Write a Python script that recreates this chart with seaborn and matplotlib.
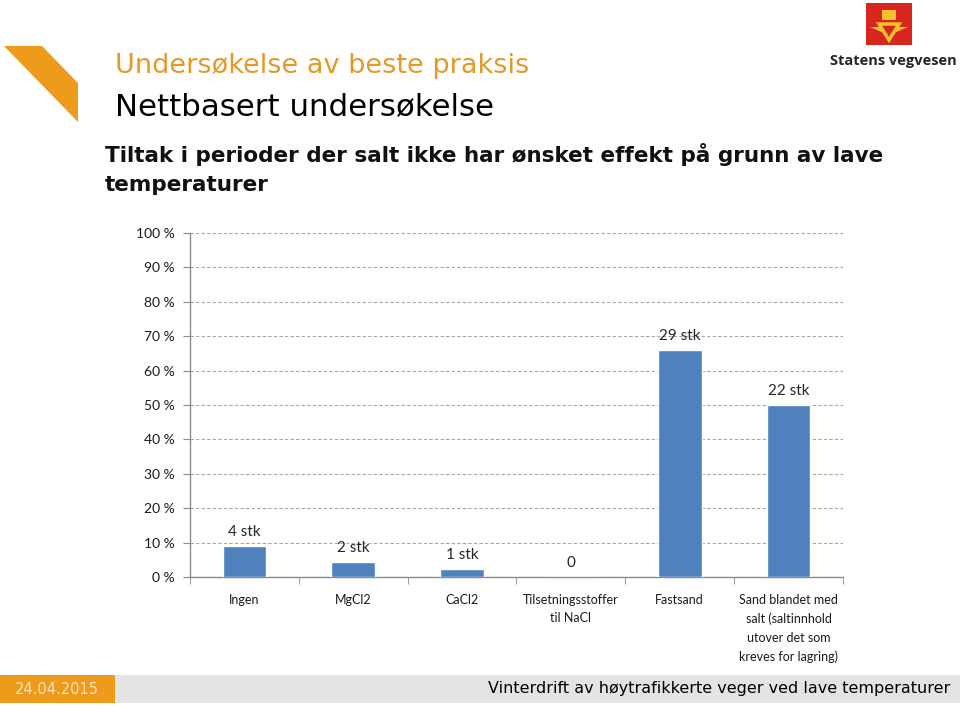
import pandas as pd
import numpy as np
import matplotlib.pyplot as plt
import seaborn as sns
from matplotlib.patches import Polygon, Rectangle

# --- Données du graphique ---
kategorier = ["Ingen", "MgCl2", "CaCl2", "Tilsetningsstoffer\ntil NaCl", "Fastsand",
              "Sand blandet med\nsalt (saltinnhold\nutover det som\nkreves for lagring)"]
andel = [9.1, 4.5, 2.3, 0.0, 65.9, 50.0]
etiketter = ["4 stk", "2 stk", "1 stk", "0", "29 stk", "22 stk"]
y_ticks = [0, 10, 20, 30, 40, 50, 60, 70, 80, 90, 100]

ORANGE = "#EE9A1A"
BLA = "#4F81BD"

sns.set_style("white")
plt.rcParams['font.family'] = ['DejaVu Sans']

W, H = 960, 709
fig = plt.figure(figsize=(W / 100, H / 100), dpi=100)


def fx(px):
    return px / W


def fy(py):
    return 1 - py / H


# --- Décor de la diapositive ---
fig.patches.append(Polygon([(fx(4), fy(46)), (fx(42), fy(46)), (fx(78), fy(83)), (fx(78), fy(122))],
                           closed=True, transform=fig.transFigure, color=ORANGE, lw=0))
fig.text(fx(115), fy(66), "Undersøkelse av beste praksis", color="#E39A2B", fontsize=19.5, va="center")
fig.text(fx(115), fy(107), "Nettbasert undersøkelse", color="black", fontsize=22.2, va="center")
fig.text(fx(105), fy(155), "Tiltak i perioder der salt ikke har ønsket effekt på grunn av lave",
         color="#111111", fontsize=15.5, fontweight="bold", va="center")
fig.text(fx(105), fy(185), "temperaturer", color="#111111", fontsize=15.5, fontweight="bold", va="center")

# logo (approximation)
fig.patches.append(Rectangle((fx(866), fy(45)), fx(46), 42 / H, transform=fig.transFigure,
                             color="#D7261E", lw=0))
fig.patches.append(Polygon([(fx(879), fy(24)), (fx(899), fy(24)), (fx(889), fy(40))], closed=True,
                           transform=fig.transFigure, fill=False, ec="#F2C12E", lw=2.5))
fig.patches.append(Polygon([(fx(870), fy(27)), (fx(880), fy(27)), (fx(884), fy(33))], closed=True,
                           transform=fig.transFigure, color="#F2C12E", lw=0))
fig.patches.append(Polygon([(fx(908), fy(27)), (fx(898), fy(27)), (fx(894), fy(33))], closed=True,
                           transform=fig.transFigure, color="#F2C12E", lw=0))
fig.patches.append(Rectangle((fx(882), fy(20)), fx(14), 10 / H, transform=fig.transFigure,
                             color="#F2C12E", lw=0))
fig.text(fx(893), fy(61), "Statens vegvesen", fontsize=10.5, fontweight="bold", ha="center", va="center",
         family=["Open Sans", "DejaVu Sans"])

# pied de page
fig.patches.append(Rectangle((0, fy(703)), fx(115), 28 / H, transform=fig.transFigure, color=ORANGE, lw=0))
fig.patches.append(Rectangle((fx(115), fy(703)), fx(845), 28 / H, transform=fig.transFigure,
                             color="#E4E4E4", lw=0))
fig.text(fx(57), fy(689), "24.04.2015", color="#FBE3C0", fontsize=10.5, ha="center", va="center")
fig.text(fx(950), fy(689), "Vinterdrift av høytrafikkerte veger ved lave temperaturer",
         color="black", fontsize=11.5, ha="right", va="center")

# --- Graphique ---
ax = fig.add_axes([fx(190), fy(577), fx(843 - 190), (577 - 233) / H])
df = pd.DataFrame({"kategori": kategorier, "andel": andel})
sns.barplot(data=df, x="kategori", y="andel", color=BLA, width=0.4, saturation=1, ax=ax, zorder=3)

ax.set_xlim(-0.5, len(kategorier) - 0.5)
ax.set_ylim(0, 100)
ax.set_yticks(y_ticks)
ax.set_yticklabels([f"{t} %" for t in y_ticks])
ax.set_xlabel("")
ax.set_ylabel("")
ax.yaxis.grid(True, color="#A6A6A6", linestyle=(0, (3, 2)), linewidth=0.8, zorder=0)

for s in ["top", "right"]:
    ax.spines[s].set_visible(False)
for s in ["left", "bottom"]:
    ax.spines[s].set_color("#8C8C8C")
    ax.spines[s].set_linewidth(1)

ax.set_xticks(np.arange(-0.5, len(kategorier)), minor=True)
ax.tick_params(axis="x", which="minor", length=5, color="#8C8C8C", direction="out", bottom=True)
ax.tick_params(axis="x", which="major", length=0, pad=12)
ax.tick_params(axis="y", length=5, color="#8C8C8C", direction="out", left=True, pad=6)

tick_font = ["Lato", "DejaVu Sans"]
for lab in ax.get_xticklabels():
    lab.set_family(tick_font)
    lab.set_fontsize(9)
    lab.set_linespacing(1.65)
    lab.set_va("top")
    lab.set_color("#1A1A1A")
for lab in ax.get_yticklabels():
    lab.set_family(tick_font)
    lab.set_fontsize(10)
    lab.set_color("#1A1A1A")

for i, (v, txt) in enumerate(zip(andel, etiketter)):
    ax.annotate(txt, (i, v), xytext=(0, 5), textcoords="offset points", ha="center", va="bottom",
                fontsize=11, family=tick_font)

fig.savefig("out.png", dpi=100)
